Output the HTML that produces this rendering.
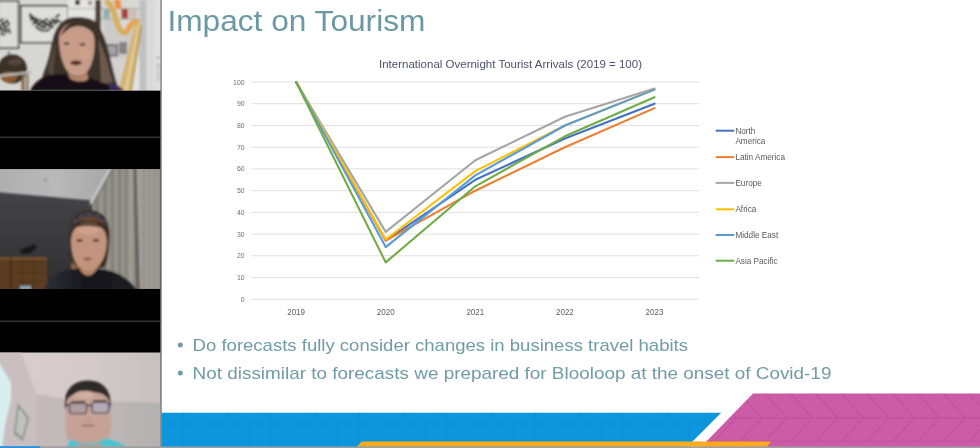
<!DOCTYPE html>
<html lang="en">
<head>
<meta charset="utf-8">
<title>Impact on Tourism</title>
<style>
html,body{margin:0;padding:0;background:#fff;overflow:hidden}
body{width:980px;height:448px;position:relative;font-family:"Liberation Sans",sans-serif}
svg{position:absolute;left:0;top:0;display:block}
text{font-family:"Liberation Sans",sans-serif}
</style>
</head>
<body>
<svg width="980" height="448" viewBox="0 0 980 448">
<rect x="0" y="0" width="980" height="448" fill="#ffffff"/>
<!-- left video column -->
<rect x="0" y="0" width="160.6" height="448" fill="#000"/>
<rect x="160.3" y="0" width="1.3" height="448" fill="#5c5c5c"/>
<!-- photos -->
<defs>
<clipPath id="c1"><rect x="0" y="0" width="160.4" height="90.5"/></clipPath>
<clipPath id="c2"><rect x="0" y="168.9" width="160.4" height="120.1"/></clipPath>
<clipPath id="c3"><rect x="0" y="352.6" width="160.4" height="94.2"/></clipPath>
<filter id="b0" x="-10%" y="-10%" width="120%" height="120%"><feGaussianBlur stdDeviation="0.35"/></filter>
<filter id="b1" x="-10%" y="-10%" width="120%" height="120%"><feGaussianBlur stdDeviation="0.8"/></filter>
<filter id="b2" x="-10%" y="-10%" width="120%" height="120%"><feGaussianBlur stdDeviation="1.6"/></filter>
<filter id="b3" x="-20%" y="-20%" width="140%" height="140%"><feGaussianBlur stdDeviation="3"/></filter>
<linearGradient id="g2ceil" x1="0" y1="0" x2="1" y2="0"><stop offset="0" stop-color="#aeaeae"/><stop offset="0.5" stop-color="#b9b9b9"/><stop offset="1" stop-color="#a6a6a6"/></linearGradient>
<linearGradient id="g2wall" x1="0" y1="0" x2="0" y2="1"><stop offset="0" stop-color="#48484a"/><stop offset="0.6" stop-color="#3a3a3c"/><stop offset="1" stop-color="#2e2e30"/></linearGradient>
<linearGradient id="g3wall" x1="0" y1="0" x2="0" y2="1"><stop offset="0" stop-color="#dcd5d8"/><stop offset="0.5" stop-color="#d6cdd0"/><stop offset="1" stop-color="#cac0c3"/></linearGradient>
<linearGradient id="g2shirt" x1="0" y1="0" x2="1" y2="0"><stop offset="0" stop-color="#2c3039"/><stop offset="0.45" stop-color="#17171c"/><stop offset="1" stop-color="#1c1c22"/></linearGradient>
<linearGradient id="g3ceil" x1="0" y1="0" x2="1" y2="0"><stop offset="0" stop-color="#d8cece"/><stop offset="0.5" stop-color="#d4cacb"/><stop offset="1" stop-color="#c6c1c1"/></linearGradient>
<linearGradient id="g3back" x1="0" y1="0" x2="1" y2="0"><stop offset="0" stop-color="#c4baba"/><stop offset="0.5" stop-color="#c0b8b8"/><stop offset="1" stop-color="#b2b0b0"/></linearGradient>
</defs>

<!-- video 1 -->
<g clip-path="url(#c1)">
<rect x="0" y="0" width="161" height="91" fill="#d6d6d2"/>
<g filter="url(#b1)">
<!-- left wall / frames -->
<rect x="-2" y="1" width="20.5" height="47" fill="#dcdcd8"/>
<g stroke="#2e2e2e" stroke-width="2.1" fill="none" stroke-linecap="round" opacity="0.9">
<path d="M0 21 L3 19 M5 23 L7 20 M1 25 L4 24 M6 27 L9 25 M0 29 L3 28 M4 31 L8 30 M1 34 L4 35 M9 29 L10 33 M2 22 L5 26 M0 26 L2 32 M5 28 L6 33 M7 22 L9 23"/>
</g>
<rect x="20.8" y="5.8" width="47.4" height="36.8" fill="#dededa"/>
<g stroke="#2e2e2e" stroke-width="2.2" fill="none" stroke-linecap="round" opacity="0.9">
<path d="M30 15 L33 17 M31 20 L34 19 M33 24 L36 22 M35 18 L38 20 M38 25 L41 23 M40 20 L43 22 M42 27 L45 25 M44 21 L47 19 M46 24 L49 26 M49 21 L52 23 M50 28 L53 27 M52 19 L55 21 M55 24 L57 22 M56 17 L59 15 M58 20 L60 22 M40 30 L44 31 M46 31 L49 30 M36 27 L39 29 M32 17 L36 21 M37 22 L41 26 M43 23 L47 23 M48 24 L52 25 M53 22 L56 20 M34 22 L38 24 M41 27 L46 28 M30 14 L31 18"/>
</g>
<g fill="none" stroke="#2a2a2a" stroke-width="1.5"><rect x="-2" y="1" width="20.5" height="47"/><rect x="20.8" y="5.8" width="47.4" height="36.8"/></g>
<!-- shelves -->
<rect x="68" y="0" width="28" height="20" fill="#e4e4e0"/>
<rect x="69" y="8" width="27" height="1.2" fill="#b8b8b4"/>
<rect x="69" y="18.8" width="27" height="1.2" fill="#c0c0bc"/>
<rect x="75" y="0" width="5" height="5" fill="#4a443c"/>
<rect x="88" y="1" width="4" height="4" fill="#9a948c"/>
<rect x="100" y="0" width="41" height="60" fill="#d8d8d4"/>
<rect x="100" y="8" width="41" height="1.2" fill="#a8a8a4"/>
<rect x="100" y="18.6" width="41" height="1.2" fill="#a8a8a4"/>
<rect x="103.5" y="9.5" width="6" height="9" fill="#7fa8a8"/>
<rect x="121.5" y="9" width="6.5" height="9.5" fill="#a84038"/>
<rect x="129" y="9.5" width="8" height="9" fill="#c8c0b8"/>
<rect x="104.5" y="44" width="13.5" height="12.5" fill="#4a4a50"/>
<rect x="106.5" y="46" width="9.5" height="8.5" fill="#9a9aa0"/>
<rect x="119" y="42" width="8" height="12" fill="#6a6a70"/>
<rect x="108" y="58" width="33" height="33" fill="#e2e2e0"/>
<!-- harp strings tone -->
<polygon points="104,8 126,36 136,26 122,86 104,86" fill="#b8b4b0" opacity="0.35"/>
<!-- right wall -->
<rect x="140" y="0" width="21" height="91" fill="#d0d0d0"/>
<rect x="139.5" y="0" width="6.5" height="91" fill="#c0c0c0"/>
<rect x="146.5" y="0" width="9" height="91" fill="#dadada"/>
<rect x="155" y="0" width="6" height="91" fill="#e0e0e0"/>
<rect x="157.6" y="56" width="1.2" height="3" fill="#6a7078"/><rect x="157.6" y="64" width="1.2" height="3" fill="#6a7078"/><rect x="157.8" y="76" width="1" height="2" fill="#7a8088"/><rect x="156" y="66" width="5" height="16" fill="#c4c8cc" opacity="0.6"/>
<!-- dark pillar -->
<rect x="95.3" y="0" width="5.4" height="58" fill="#4c3c36"/>
<!-- harp -->
<path d="M105 1 C112 3 114 14 117.5 24 C120.5 32 124.5 35 127.5 31 C130 26 133 21 138 22.5" fill="none" stroke="#d6ae5c" stroke-width="5.6"/>
<path d="M113.5 0 L120.5 0 L121.5 9 L116 9 Z" fill="#ea8f3c"/>
<path d="M126.5 31 C129 24 133 19.5 139 21.5" fill="none" stroke="#eaa040" stroke-width="3.4"/>
<path d="M135.5 22 L141.5 24.5 L131.5 91 L118.5 91 Z" fill="#d2b270"/><path d="M137.5 24 L139.5 25 L127.5 91 L124 91 Z" fill="#e2ca94"/>
<path d="M141.3 26 L131.3 91" stroke="#a88a48" stroke-width="1.2" fill="none"/>
<!-- globe -->
<circle cx="12.3" cy="69" r="14.6" fill="#3a3028"/>
<ellipse cx="9" cy="77" rx="8.5" ry="5.5" fill="#8a5a30"/>
<ellipse cx="15" cy="62" rx="7" ry="3.5" fill="#54463c"/>
<rect x="8" y="51.5" width="1.6" height="4" fill="#6a5a40"/>
<path d="M0 74.5 L31 71 L31 73.5 L0 77 Z" fill="#b8b8b0"/>
<rect x="21.5" y="74" width="3" height="17" fill="#7a6444"/>
<rect x="26" y="74" width="2.4" height="17" fill="#8a7454"/>
<!-- woman hair -->
<path d="M77 17 C63 16.5 55.5 26 52.5 40 C50.5 52 48 62 44 72 L38 91 L120 91 C116 83 113.5 71 110.5 59 C107.5 45 103 31 96.5 23 C92 18.5 84 17 77 17 Z" fill="#3a3029"/>
<path d="M98 38 C104 50 108 64 111 76 L116 91 L101 91 C101 74 100 54 98 38 Z" fill="#6c5a4e"/>
<path d="M48 70 C50 60 53 50 56 42 C55 54 54 66 52 78 Z" fill="#5a4a40"/>
<!-- face -->
<path d="M59 39 C59 29 66 22.5 76 22.5 C87 22.5 94 30 94.6 41 C95 53 92.5 65 87 72 C82 77.5 73 77.5 68.5 72.5 C62 65 59 51 59 39 Z" fill="#c79c88"/>
<path d="M75 22 C82 21 90 25 94 34 C90 29 84 26 78 26 C72 26 66 30 61 36 C63 28 68 23 75 22 Z" fill="#3a3029"/>
<ellipse cx="66.5" cy="43.5" rx="3" ry="1.2" fill="#5a4038"/>
<ellipse cx="82.5" cy="44.5" rx="3" ry="1.2" fill="#5a4038"/>
<ellipse cx="76" cy="62.8" rx="5.6" ry="2.4" fill="#5e2626"/>
<ellipse cx="85" cy="54" rx="5" ry="6" fill="#d2a48e" opacity="0.7"/>
<path d="M68 73 C74 78 82 78 87 72 L89 84 L72 84 Z" fill="#b4866e"/>
<!-- shirt -->
<path d="M30 91 C34 82 42 77 50 75 L66 74 C70 82 84 84 90 78 L100 82 C108 84 116 86 122 91 Z" fill="#121014"/>
<path d="M108 82 C114 82 120 86 124 91 L110 91 Z" fill="#3a2a52"/>
</g>
</g>

<!-- video 2 -->
<g clip-path="url(#c2)">
<rect x="0" y="169" width="161" height="121" fill="url(#g2wall)"/>
<g filter="url(#b1)">
<polygon points="-2,168 111,168 92,200.5 -2,192.3" fill="url(#g2ceil)"/>
<!-- curtain -->
<polygon points="111,168 162,168 162,290 92,290 92,203" fill="#8e8c84"/>
<g opacity="0.9">
<rect x="96" y="196" width="2" height="94" fill="#7a7870"/>
<rect x="100" y="190" width="2.5" height="100" fill="#9a988f"/>
<rect x="104" y="182" width="2" height="108" fill="#7c7a72"/>
<rect x="107.5" y="176" width="2.5" height="114" fill="#98968d"/>
<rect x="111.5" y="168" width="2" height="122" fill="#7e7c74"/>
<rect x="114.5" y="168" width="3" height="122" fill="#9a988f"/>
<rect x="118.5" y="168" width="2" height="122" fill="#7c7a72"/>
<rect x="121.5" y="168" width="3" height="122" fill="#979589"/>
<rect x="125.5" y="168" width="1.8" height="122" fill="#807e76"/>
<rect x="128.5" y="168" width="4.5" height="122" fill="#a09e95"/>
<polygon points="133.5,168 136.5,168 140,290 136,290" fill="#5e5c56"/>
<polygon points="136.5,168 161,168 161,290 140,290" fill="#a3a199"/>
<rect x="143" y="168" width="1.6" height="122" fill="#8e8c84"/>
<rect x="148.5" y="168" width="1.6" height="122" fill="#8c8a82"/>
<rect x="153.5" y="168" width="2" height="122" fill="#908e86"/>
<rect x="157.5" y="168" width="3.5" height="122" fill="#94928a"/>
</g>
<path d="M110.3 168 L90.3 204" stroke="#c8c8c8" stroke-width="2.6" fill="none"/><path d="M113 168 L93 204" stroke="#74726c" stroke-width="1.5" fill="none"/>
<ellipse cx="45.3" cy="180.3" rx="2" ry="0.9" fill="#808080"/>
<!-- sofa -->
<rect x="-2" y="257.3" width="49" height="33" fill="#5c3c22"/>
<rect x="-2" y="257.3" width="49" height="2" fill="#80552e"/>
<rect x="10" y="258" width="1.2" height="32" fill="#2e1c10"/>
<rect x="12" y="262" width="32" height="1" fill="#4a2e18"/>
<rect x="12" y="272" width="32" height="1" fill="#4a2e18"/>
<rect x="12" y="281" width="32" height="1" fill="#4a2e18"/>
<rect x="22" y="259" width="1" height="30" fill="#4a2e18"/>
<rect x="33" y="259" width="1" height="30" fill="#4a2e18"/>
<!-- lamp -->
<path d="M20 250 L34 244.5 L37 247 L30 253 L22 254 Z" fill="#141414"/>
<rect x="20" y="285.8" width="11" height="4" fill="#8aa4b4"/>
<!-- woman -->
<path d="M69.5 240 C67.5 222 76 210.3 90 210.3 C104 210.3 111 222 109.5 238 C109 250 108 262 104 268 L74 268 C71 260 70 250 69.5 240 Z" fill="#3a2a22"/>
<path d="M76 222 C80 215 98 214 104 224 C98 220 84 219 76 222 Z" fill="#6a4832"/>
<path d="M69.8 234 C71 219 81 211.5 93 213 C102 214.5 108.5 221 109.3 231 C105 221.5 98 216.5 90 216.3 C80 216 73 224 69.8 234 Z" fill="#3c3e4e"/>
<path d="M74 222 L76 220 M80 216 L82 215 M88 213.5 L90 213.8 M97 215 L99 216 M104 220 L105.5 222" stroke="#6a6e7c" stroke-width="1" fill="none"/>
<path d="M72 262 C70 266 71 272 75 275 L79 268 Z" fill="#8a6444"/>
<path d="M71 241 C71 230 78 222.5 88.5 222.5 C99 222.5 106.5 229.5 106.8 241 C107 252 103 262 97 268 C92.5 272.5 84 272.5 79.5 268 C73.5 262 71 251 71 241 Z" fill="#c2947e"/>
<ellipse cx="88" cy="230" rx="11" ry="5" fill="#cfa48e" opacity="0.8"/>
<path d="M74 228 C80 221.5 97 221.5 104.5 229 C98 225.5 82 225 74 228 Z" fill="#4a3428"/>
<ellipse cx="79.5" cy="240.5" rx="3.2" ry="1.2" fill="#3a2a26"/>
<ellipse cx="96" cy="240.5" rx="3.2" ry="1.2" fill="#3a2a26"/>
<ellipse cx="87.5" cy="259" rx="4.2" ry="1.7" fill="#a05a58"/>
<path d="M80 266 C84 272 92 272 96 267 L98 280 L80 280 Z" fill="#b08468"/>
<path d="M44 290 C47 280 56 272.5 68 269.5 L79 268.5 C84 278 92 278 97.5 268.5 L107 270 C120 273 130 280 137 290 Z" fill="url(#g2shirt)"/>
</g>

</g>

<!-- video 3 -->
<g clip-path="url(#c3)">
<rect x="0" y="352" width="161" height="95" fill="url(#g3ceil)"/>
<g filter="url(#b1)">
<polygon points="36,394 60,398 100,401 161,403 161,447 35,447" fill="url(#g3back)"/>
<polygon points="-2,352 21.5,352 36,394 35,447 -2,447" fill="#c9bfc1"/>
<polygon points="-2,361 11,382.7 11,400 5.5,422 2,448 -2,448" fill="#d9eeee"/>
<polygon points="17.5,402.4 29.5,417.7 23,441.7 13.5,434" fill="#939a94"/>
<polygon points="19,408 27,418.8 22,437 15.8,431.5" fill="#bec3be"/>
<!-- man -->
<path d="M65.5 410 C62 392 72 380.4 88 380.4 C104 380.4 113 392 110 410 L106 400 L70 400 Z" fill="#2e2a28"/>
<path d="M66.5 404 C66.5 394 76 387.5 88 387.5 C100 387.5 109 394 109.5 404 C111 416 112 428 109 438 C105 447 71 447 67 438 C64.5 428 65.5 416 66.5 404 Z" fill="#c6a296"/>
<path d="M65 402 C66 388 77 381 90 382 C102 383 110 390 110.5 403 C107.5 396 102 392.5 95 392.5 C87 389.5 74 390 65 402 Z" fill="#2e2a28"/>
<ellipse cx="84" cy="395" rx="10" ry="4" fill="#d4b0a4" opacity="0.8"/>
<rect x="69.4" y="403" width="17.2" height="10.6" rx="3" fill="#b09c9e" stroke="#4a4652" stroke-width="1.3"/>
<rect x="92" y="402.4" width="16.8" height="10.4" rx="3" fill="#b4acb8" stroke="#4a4652" stroke-width="1.3"/>
<rect x="86" y="404.6" width="6.5" height="1.7" fill="#45404c"/>
<rect x="64.5" y="404.3" width="5.2" height="1.7" fill="#45404c"/>
<rect x="108.4" y="403.6" width="3" height="1.7" fill="#45404c"/>
<path d="M71 402.2 L85 401.6 M93 400.8 L107 400.8" stroke="#3a3432" stroke-width="1.5" fill="none"/>
<ellipse cx="88" cy="425.5" rx="7" ry="1.3" fill="#a07a72"/>
<ellipse cx="88" cy="420" rx="4" ry="2" fill="#b8948a" opacity="0.6"/>
<path d="M66 447 L71 439 C80 445 98 445 105 438 L117 441 L127 447 Z" fill="#4cc2d2"/>
<path d="M77 442 C84 446.5 96 446.5 102 441.5 L100 447 L79 447 Z" fill="#ba968a"/>
</g>
</g>

<rect x="0" y="136.6" width="160.6" height="1.3" fill="#3c3c3c"/>
<rect x="0" y="320.6" width="160.6" height="1.3" fill="#3c3c3c"/>
<!-- slide -->
<text x="167.4" y="31.1" font-size="29.4" fill="#6a99a3" textLength="258" lengthAdjust="spacingAndGlyphs">Impact on Tourism</text>
<text x="379" y="67.7" font-size="10.8" fill="#4b5268" textLength="263" lengthAdjust="spacingAndGlyphs">International Overnight Tourist Arrivals (2019 = 100)</text>
<line x1="251.3" x2="699.3" y1="299.3" y2="299.3" stroke="#dcdcdc" stroke-width="0.9"/>
<text x="244.6" y="301.8" text-anchor="end" font-size="6.9" fill="#6e6e6e">0</text>
<line x1="251.3" x2="699.3" y1="277.6" y2="277.6" stroke="#dcdcdc" stroke-width="0.9"/>
<text x="244.6" y="280.1" text-anchor="end" font-size="6.9" fill="#6e6e6e">10</text>
<line x1="251.3" x2="699.3" y1="255.8" y2="255.8" stroke="#dcdcdc" stroke-width="0.9"/>
<text x="244.6" y="258.3" text-anchor="end" font-size="6.9" fill="#6e6e6e">20</text>
<line x1="251.3" x2="699.3" y1="234.1" y2="234.1" stroke="#dcdcdc" stroke-width="0.9"/>
<text x="244.6" y="236.6" text-anchor="end" font-size="6.9" fill="#6e6e6e">30</text>
<line x1="251.3" x2="699.3" y1="212.4" y2="212.4" stroke="#dcdcdc" stroke-width="0.9"/>
<text x="244.6" y="214.9" text-anchor="end" font-size="6.9" fill="#6e6e6e">40</text>
<line x1="251.3" x2="699.3" y1="190.7" y2="190.7" stroke="#dcdcdc" stroke-width="0.9"/>
<text x="244.6" y="193.2" text-anchor="end" font-size="6.9" fill="#6e6e6e">50</text>
<line x1="251.3" x2="699.3" y1="168.9" y2="168.9" stroke="#dcdcdc" stroke-width="0.9"/>
<text x="244.6" y="171.4" text-anchor="end" font-size="6.9" fill="#6e6e6e">60</text>
<line x1="251.3" x2="699.3" y1="147.2" y2="147.2" stroke="#dcdcdc" stroke-width="0.9"/>
<text x="244.6" y="149.7" text-anchor="end" font-size="6.9" fill="#6e6e6e">70</text>
<line x1="251.3" x2="699.3" y1="125.5" y2="125.5" stroke="#dcdcdc" stroke-width="0.9"/>
<text x="244.6" y="128.0" text-anchor="end" font-size="6.9" fill="#6e6e6e">80</text>
<line x1="251.3" x2="699.3" y1="103.7" y2="103.7" stroke="#dcdcdc" stroke-width="0.9"/>
<text x="244.6" y="106.2" text-anchor="end" font-size="6.9" fill="#6e6e6e">90</text>
<line x1="251.3" x2="699.3" y1="82.0" y2="82.0" stroke="#dcdcdc" stroke-width="0.9"/>
<text x="244.6" y="84.5" text-anchor="end" font-size="6.9" fill="#6e6e6e">100</text>
<text x="296.1" y="314.5" text-anchor="middle" font-size="8.7" fill="#606060" textLength="17.8" lengthAdjust="spacingAndGlyphs">2019</text>
<text x="385.7" y="314.5" text-anchor="middle" font-size="8.7" fill="#606060" textLength="17.8" lengthAdjust="spacingAndGlyphs">2020</text>
<text x="475.3" y="314.5" text-anchor="middle" font-size="8.7" fill="#606060" textLength="17.8" lengthAdjust="spacingAndGlyphs">2021</text>
<text x="564.9" y="314.5" text-anchor="middle" font-size="8.7" fill="#606060" textLength="17.8" lengthAdjust="spacingAndGlyphs">2022</text>
<text x="654.5" y="314.5" text-anchor="middle" font-size="8.7" fill="#606060" textLength="17.8" lengthAdjust="spacingAndGlyphs">2023</text>
<polyline points="296.1,82.0 385.7,240.6 475.3,179.8 564.9,138.5 654.5,103.7" fill="none" stroke="#4472C4" stroke-width="2.1" stroke-linejoin="round" stroke-linecap="round"/>
<polyline points="296.1,82.0 385.7,240.6 475.3,190.7 564.9,147.2 654.5,108.1" fill="none" stroke="#ED7D31" stroke-width="2.1" stroke-linejoin="round" stroke-linecap="round"/>
<polyline points="296.1,82.0 385.7,231.9 475.3,160.2 564.9,116.8 654.5,88.5" fill="none" stroke="#A5A5A5" stroke-width="2.1" stroke-linejoin="round" stroke-linecap="round"/>
<polyline points="296.1,82.0 385.7,239.5 475.3,171.1 564.9,125.5 654.5,89.4" fill="none" stroke="#FFC000" stroke-width="2.1" stroke-linejoin="round" stroke-linecap="round"/>
<polyline points="296.1,82.0 385.7,247.1 475.3,175.4 564.9,125.5 654.5,89.6" fill="none" stroke="#5B9BD5" stroke-width="2.1" stroke-linejoin="round" stroke-linecap="round"/>
<polyline points="296.1,82.0 385.7,262.4 475.3,186.3 564.9,136.3 654.5,97.2" fill="none" stroke="#70AD47" stroke-width="2.1" stroke-linejoin="round" stroke-linecap="round"/>
<line x1="715.7" x2="734.3" y1="130.7" y2="130.7" stroke="#4472C4" stroke-width="2" stroke-linecap="butt"/>
<text x="735.4" y="133.5" font-size="8.2" fill="#5a5a5a">North</text>
<line x1="715.7" x2="734.3" y1="157.1" y2="157.1" stroke="#ED7D31" stroke-width="2" stroke-linecap="butt"/>
<text x="735.4" y="159.9" font-size="8.2" fill="#5a5a5a">Latin America</text>
<line x1="715.7" x2="734.3" y1="182.9" y2="182.9" stroke="#A5A5A5" stroke-width="2" stroke-linecap="butt"/>
<text x="735.4" y="185.7" font-size="8.2" fill="#5a5a5a">Europe</text>
<line x1="715.7" x2="734.3" y1="209.3" y2="209.3" stroke="#FFC000" stroke-width="2" stroke-linecap="butt"/>
<text x="735.4" y="212.1" font-size="8.2" fill="#5a5a5a">Africa</text>
<line x1="715.7" x2="734.3" y1="235" y2="235" stroke="#5B9BD5" stroke-width="2" stroke-linecap="butt"/>
<text x="735.4" y="237.8" font-size="8.2" fill="#5a5a5a">Middle East</text>
<line x1="715.7" x2="734.3" y1="260.7" y2="260.7" stroke="#70AD47" stroke-width="2" stroke-linecap="butt"/>
<text x="735.4" y="263.5" font-size="8.2" fill="#5a5a5a">Asia Pacific</text>
<text x="735.4" y="144.2" font-size="8.2" fill="#5a5a5a">America</text>
<circle cx="180.3" cy="344.9" r="2.5" fill="#6f9ca5"/>
<circle cx="180.3" cy="373.0" r="2.5" fill="#6f9ca5"/>
<text x="192.6" y="350.8" font-size="16.1" fill="#6f9ca5" textLength="495.4" lengthAdjust="spacingAndGlyphs">Do forecasts fully consider changes in business travel habits</text>
<text x="192.6" y="378.5" font-size="16.1" fill="#6f9ca5" textLength="638.8" lengthAdjust="spacingAndGlyphs">Not dissimilar to forecasts we prepared for Blooloop at the onset of Covid-19</text>
<!-- footer -->
<defs><clipPath id="cpink"><polygon points="753,393.4 980,393.4 980,446.9 701,446.9"/></clipPath>
<clipPath id="cblue"><polygon points="161.5,412.7 721.2,412.7 687,446.9 161.5,446.9"/></clipPath></defs>
<polygon points="161.5,412.7 721.2,412.7 687,446.9 161.5,446.9" fill="#0d96dc"/>
<g clip-path="url(#cblue)" stroke="#0a86cc" stroke-width="0.9" fill="none" opacity="0.55">
<path d="M183 412 V447 M205 424 V447 M227 412 V447 M249 424 V447 M271 412 V447 M293 424 V447 M315 412 V447 M337 424 V447 M359 412 V447 M381 424 V447 M403 412 V447 M425 424 V447 M447 412 V447 M469 424 V447 M491 412 V447 M513 424 V447 M535 412 V447 M557 424 V447 M579 412 V447 M601 424 V447 M623 412 V447 M645 424 V447 M667 412 V447 M689 424 V447"/>
<path d="M161 424 H720" stroke-dasharray="34 10"/>
</g>
<polygon points="753,393.4 980,393.4 980,446.9 701,446.9" fill="#cd5ca6"/>
<g clip-path="url(#cpink)" stroke="#b24a94" stroke-width="0.9" fill="none" opacity="0.85">
<path d="M662.8 393.4 L685.0 417.8 M688.3 393.4 L710.5 417.8 M713.8 393.4 L736.0 417.8 M739.3 393.4 L761.5 417.8 M764.8 393.4 L787.0 417.8 M790.2 393.4 L812.4 417.8 M815.7 393.4 L837.9 417.8 M841.2 393.4 L863.4 417.8 M866.7 393.4 L888.9 417.8 M892.2 393.4 L914.4 417.8 M917.6 393.4 L939.8 417.8 M943.1 393.4 L965.3 417.8 M968.6 393.4 L990.8 417.8 M994.1 393.4 L1016.3 417.8 M685.0 417.8 L663.4 441.2 M710.5 417.8 L688.9 441.2 M736.0 417.8 L714.4 441.2 M761.5 417.8 L739.9 441.2 M787.0 417.8 L765.4 441.2 M812.4 417.8 L790.8 441.2 M837.9 417.8 L816.3 441.2 M863.4 417.8 L841.8 441.2 M888.9 417.8 L867.3 441.2 M914.4 417.8 L892.8 441.2 M939.8 417.8 L918.2 441.2 M965.3 417.8 L943.7 441.2 M990.8 417.8 L969.2 441.2 M1016.3 417.8 L994.7 441.2"/>
<path d="M700 417.8 H980 M700 441.4 H980" opacity="0.7"/>
</g>
<polygon points="361.6,441.4 771.2,441.4 766.8,446.8 357,446.8" fill="#fcaa1e"/>
<rect x="0" y="446.5" width="980" height="1.6" fill="#a0a0a0"/>
<rect x="0" y="446.2" width="40.4" height="1.9" fill="#2a92e4"/>

</svg>
</body>
</html>
